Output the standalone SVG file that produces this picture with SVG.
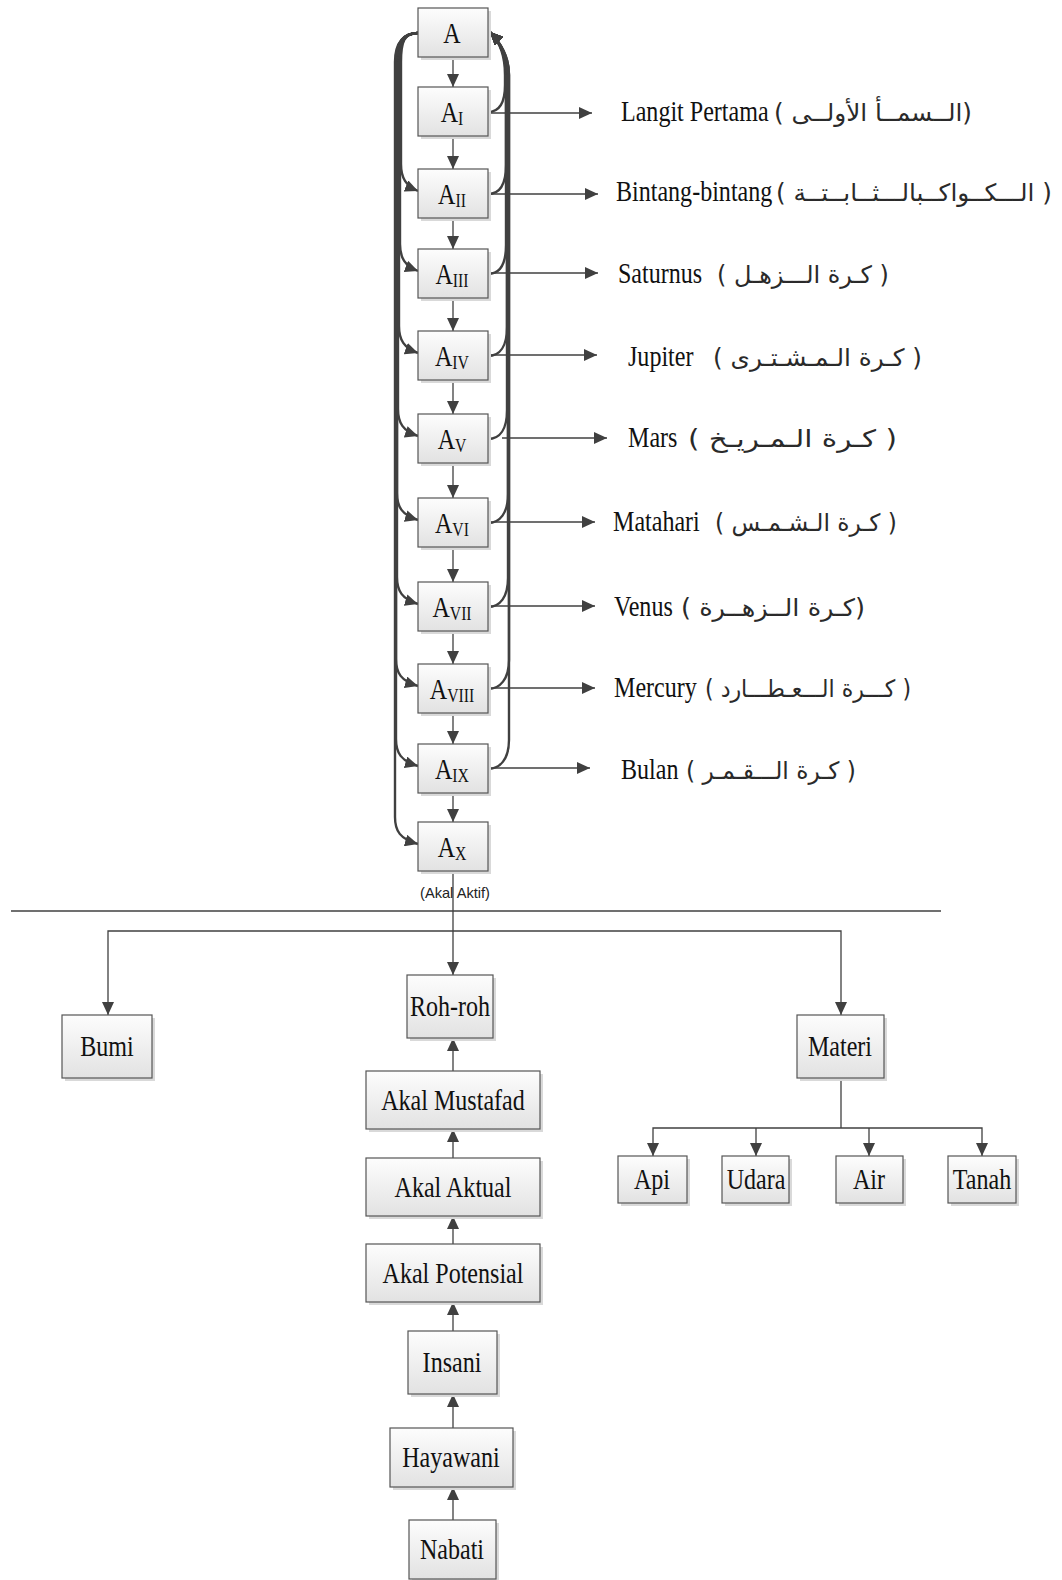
<svg xmlns="http://www.w3.org/2000/svg" width="1062" height="1580" viewBox="0 0 1062 1580">
<defs>
<linearGradient id="g" x1="0" y1="0" x2="0" y2="1">
<stop offset="0" stop-color="#fdfdfd"/>
<stop offset="1" stop-color="#e2e2e2"/>
</linearGradient>
<marker id="ah" viewBox="0 0 13 12" refX="13" refY="6" markerWidth="13" markerHeight="12" markerUnits="userSpaceOnUse" orient="auto-start-reverse">
<path d="M0,0 L13,6 L0,12 Z" fill="#404040"/>
</marker>
</defs>
<style>
.box rect.b{fill:url(#g);stroke:#555;stroke-width:1.2}
.box rect.s{fill:#d9d9d9}
.t{font-family:"Liberation Serif","Times New Roman",serif;font-size:29px;fill:#111;text-anchor:middle}
.sub{font-size:19px}
.lbl{font-family:"Liberation Serif","Times New Roman",serif;font-size:29px;fill:#111}
.ar{font-family:"DejaVu Sans",sans-serif;font-size:24px;fill:#2a2a2a}
.c{fill:none;stroke:#404040;stroke-width:1.3}
.cv{fill:none;stroke:#404040;stroke-width:2.4}
.small{font-family:"Liberation Sans",Arial,sans-serif;font-size:15px;fill:#222;text-anchor:middle}
</style>

<g id="connectors">
<!-- straight down arrows in A stack -->
<path class="c" d="M453,57 V87" marker-end="url(#ah)"/>
<path class="c" d="M453,136 V169" marker-end="url(#ah)"/>
<path class="c" d="M453,218 V249" marker-end="url(#ah)"/>
<path class="c" d="M453,298 V331" marker-end="url(#ah)"/>
<path class="c" d="M453,380 V414" marker-end="url(#ah)"/>
<path class="c" d="M453,463 V498" marker-end="url(#ah)"/>
<path class="c" d="M453,547 V582" marker-end="url(#ah)"/>
<path class="c" d="M453,631 V664" marker-end="url(#ah)"/>
<path class="c" d="M453,713 V744" marker-end="url(#ah)"/>
<path class="c" d="M453,793 V822" marker-end="url(#ah)"/>

<!-- left curved arrows from A -->
<path class="cv" d="M418,33 C404,33 401,42 401,62 L401,164 C401,178 406,186 418,191" marker-end="url(#ah)"/>
<path class="cv" d="M418,33 C404,33 400,42 400,62 L400,244 C400,258 405,266 418,271" marker-end="url(#ah)"/>
<path class="cv" d="M418,33 C404,33 399,42 399,62 L399,326 C399,340 404,348 418,353" marker-end="url(#ah)"/>
<path class="cv" d="M418,33 C404,33 398,42 398,62 L398,409 C398,423 403,431 418,436" marker-end="url(#ah)"/>
<path class="cv" d="M418,33 C404,33 397,42 397,62 L397,493 C397,507 402,515 418,520" marker-end="url(#ah)"/>
<path class="cv" d="M418,33 C404,33 397,42 397,62 L397,577 C397,591 402,599 418,604" marker-end="url(#ah)"/>
<path class="cv" d="M418,33 C404,33 396,42 396,62 L396,659 C396,673 401,681 418,686" marker-end="url(#ah)"/>
<path class="cv" d="M418,33 C404,33 396,42 396,62 L396,739 C396,753 401,761 418,766" marker-end="url(#ah)"/>
<path class="cv" d="M418,33 C404,33 395,42 395,62 L395,817 C395,831 400,839 418,844" marker-end="url(#ah)"/>

<!-- right curved arrows back to A -->
<path class="cv" d="M488,112 C500,112 505,102 505,85 L505,75 C505,55 500,42 490,32" marker-end="url(#ah)"/>
<path class="cv" d="M488,194 C500,194 506,184 506,165 L506,75 C506,55 500,42 490,32" marker-end="url(#ah)"/>
<path class="cv" d="M488,274 C500,274 506,264 506,245 L506,75 C506,55 500,42 490,32" marker-end="url(#ah)"/>
<path class="cv" d="M488,356 C500,356 507,346 507,327 L507,75 C507,55 500,42 490,32" marker-end="url(#ah)"/>
<path class="cv" d="M488,439 C500,439 507,429 507,410 L507,75 C507,55 500,42 490,32" marker-end="url(#ah)"/>
<path class="cv" d="M488,523 C500,523 508,513 508,494 L508,75 C508,55 500,42 490,32" marker-end="url(#ah)"/>
<path class="cv" d="M488,607 C500,607 508,597 508,578 L508,75 C508,55 500,42 490,32" marker-end="url(#ah)"/>
<path class="cv" d="M488,689 C500,689 509,679 509,660 L509,75 C509,55 500,42 490,32" marker-end="url(#ah)"/>
<path class="cv" d="M488,769 C500,769 509,759 509,740 L509,75 C509,55 500,42 490,32" marker-end="url(#ah)"/>

<!-- horizontal arrows to labels -->
<path class="c" d="M488,113 H592" marker-end="url(#ah)"/>
<path class="c" d="M488,194 H598" marker-end="url(#ah)"/>
<path class="c" d="M488,273 H598" marker-end="url(#ah)"/>
<path class="c" d="M488,355 H597" marker-end="url(#ah)"/>
<path class="c" d="M502,438 H607" marker-end="url(#ah)"/>
<path class="c" d="M488,522 H595" marker-end="url(#ah)"/>
<path class="c" d="M488,606 H595" marker-end="url(#ah)"/>
<path class="c" d="M488,688 H595" marker-end="url(#ah)"/>
<path class="c" d="M488,768 H590" marker-end="url(#ah)"/>

<!-- divider -->
<path class="c" d="M11,911 H941"/>

<!-- A_X to Roh-roh and branches -->
<path class="c" d="M453,871 V975" marker-end="url(#ah)"/>
<path class="c" d="M841,1015 V931 H108 V1015" marker-start="url(#ah)" marker-end="url(#ah)"/>

<!-- Materi to elements -->
<path class="c" d="M841,1078 V1128"/>
<path class="c" d="M653,1156 V1128 H982 V1156" marker-start="url(#ah)" marker-end="url(#ah)"/>
<path class="c" d="M756,1128 V1156" marker-end="url(#ah)"/>
<path class="c" d="M869,1128 V1156" marker-end="url(#ah)"/>

<!-- lower stack upward arrows -->
<path class="c" d="M453,1071 V1038" marker-end="url(#ah)"/>
<path class="c" d="M453,1158 V1129" marker-end="url(#ah)"/>
<path class="c" d="M453,1244 V1216" marker-end="url(#ah)"/>
<path class="c" d="M453,1331 V1302" marker-end="url(#ah)"/>
<path class="c" d="M453,1428 V1394" marker-end="url(#ah)"/>
<path class="c" d="M453,1520 V1487" marker-end="url(#ah)"/>
</g>

<!-- A stack nodes -->
<g id="A" class="box"><rect class="s" x="421" y="11" width="70" height="49"/><rect class="b" x="418" y="8" width="70" height="49"/><text class="t" transform="translate(452,43) scale(0.83,1)">A</text></g>
<g id="A1" class="box"><rect class="s" x="421" y="90" width="70" height="49"/><rect class="b" x="418" y="87" width="70" height="49"/><text class="t" transform="translate(452,122) scale(0.83,1)">A<tspan class="sub" dy="3">I</tspan></text></g>
<g id="A2" class="box"><rect class="s" x="421" y="172" width="70" height="49"/><rect class="b" x="418" y="169" width="70" height="49"/><text class="t" transform="translate(452,204) scale(0.83,1)">A<tspan class="sub" dy="3">II</tspan></text></g>
<g id="A3" class="box"><rect class="s" x="421" y="252" width="70" height="49"/><rect class="b" x="418" y="249" width="70" height="49"/><text class="t" transform="translate(452,284) scale(0.83,1)">A<tspan class="sub" dy="3">III</tspan></text></g>
<g id="A4" class="box"><rect class="s" x="421" y="334" width="70" height="49"/><rect class="b" x="418" y="331" width="70" height="49"/><text class="t" transform="translate(452,366) scale(0.83,1)">A<tspan class="sub" dy="3">IV</tspan></text></g>
<g id="A5" class="box"><rect class="s" x="421" y="417" width="70" height="49"/><rect class="b" x="418" y="414" width="70" height="49"/><text class="t" transform="translate(452,449) scale(0.83,1)">A<tspan class="sub" dy="3">V</tspan></text></g>
<g id="A6" class="box"><rect class="s" x="421" y="501" width="70" height="49"/><rect class="b" x="418" y="498" width="70" height="49"/><text class="t" transform="translate(452,533) scale(0.83,1)">A<tspan class="sub" dy="3">VI</tspan></text></g>
<g id="A7" class="box"><rect class="s" x="421" y="585" width="70" height="49"/><rect class="b" x="418" y="582" width="70" height="49"/><text class="t" transform="translate(452,617) scale(0.83,1)">A<tspan class="sub" dy="3">VII</tspan></text></g>
<g id="A8" class="box"><rect class="s" x="421" y="667" width="70" height="49"/><rect class="b" x="418" y="664" width="70" height="49"/><text class="t" transform="translate(452,699) scale(0.83,1)">A<tspan class="sub" dy="3">VIII</tspan></text></g>
<g id="A9" class="box"><rect class="s" x="421" y="747" width="70" height="49"/><rect class="b" x="418" y="744" width="70" height="49"/><text class="t" transform="translate(452,779) scale(0.83,1)">A<tspan class="sub" dy="3">IX</tspan></text></g>
<g id="A10" class="box"><rect class="s" x="421" y="825" width="70" height="49"/><rect class="b" x="418" y="822" width="70" height="49"/><text class="t" transform="translate(452,857) scale(0.83,1)">A<tspan class="sub" dy="3">X</tspan></text></g>
<text id="akal-aktif" class="small" x="455" y="898" textLength="70" lengthAdjust="spacingAndGlyphs">(Akal Aktif)</text>

<!-- right labels -->
<g id="lbl-langit"><text class="lbl" transform="translate(621,121) scale(0.83,1)">Langit Pertama</text><text class="ar" x="774" y="121" textLength="198" lengthAdjust="spacingAndGlyphs">( الــسمــأ الأولــى)</text></g>
<g id="lbl-bintang"><text class="lbl" transform="translate(616,201) scale(0.83,1)">Bintang-bintang</text><text class="ar" x="776" y="201" textLength="276" lengthAdjust="spacingAndGlyphs">( الـــكــواكــبالـــثــابــتــة )</text></g>
<g id="lbl-saturnus"><text class="lbl" transform="translate(618,283) scale(0.83,1)">Saturnus</text><text class="ar" x="717" y="283" textLength="172" lengthAdjust="spacingAndGlyphs">( كـرة الـــزهـل )</text></g>
<g id="lbl-jupiter"><text class="lbl" transform="translate(628,366) scale(0.83,1)">Jupiter</text><text class="ar" x="713" y="366" textLength="209" lengthAdjust="spacingAndGlyphs">( كـرة الـمـشـتـرى )</text></g>
<g id="lbl-mars"><text class="lbl" transform="translate(628,447) scale(0.83,1)">Mars</text><text class="ar" x="688" y="447" textLength="209" lengthAdjust="spacingAndGlyphs">( كـرة  الـمـريـخ    )</text></g>
<g id="lbl-matahari"><text class="lbl" transform="translate(613,531) scale(0.83,1)">Matahari</text><text class="ar" x="715" y="531" textLength="182" lengthAdjust="spacingAndGlyphs">( كـرة الـشـمـس )</text></g>
<g id="lbl-venus"><text class="lbl" transform="translate(614,616) scale(0.83,1)">Venus</text><text class="ar" x="681" y="616" textLength="184" lengthAdjust="spacingAndGlyphs">( كـرة   الــزهــرة)</text></g>
<g id="lbl-mercury"><text class="lbl" transform="translate(614,697) scale(0.83,1)">Mercury</text><text class="ar" x="705" y="697" textLength="206" lengthAdjust="spacingAndGlyphs">( كـــرة الـــعـطـــارد )</text></g>
<g id="lbl-bulan"><text class="lbl" transform="translate(621,779) scale(0.83,1)">Bulan</text><text class="ar" x="686" y="779" textLength="170" lengthAdjust="spacingAndGlyphs">( كـرة الـــقـمـر )</text></g>

<!-- lower nodes -->
<g id="bumi" class="box"><rect class="s" x="65" y="1018" width="90" height="63"/><rect class="b" x="62" y="1015" width="90" height="63"/><text class="t" transform="translate(107,1056) scale(0.83,1)">Bumi</text></g>
<g id="rohroh" class="box"><rect class="s" x="410" y="978" width="86" height="63"/><rect class="b" x="407" y="975" width="86" height="63"/><text class="t" transform="translate(450,1016) scale(0.83,1)">Roh-roh</text></g>
<g id="materi" class="box"><rect class="s" x="800" y="1018" width="87" height="63"/><rect class="b" x="797" y="1015" width="87" height="63"/><text class="t" transform="translate(840,1056) scale(0.83,1)">Materi</text></g>
<g id="mustafad" class="box"><rect class="s" x="369" y="1074" width="174" height="58"/><rect class="b" x="366" y="1071" width="174" height="58"/><text class="t" transform="translate(453,1110) scale(0.83,1)">Akal Mustafad</text></g>
<g id="aktual" class="box"><rect class="s" x="369" y="1161" width="174" height="58"/><rect class="b" x="366" y="1158" width="174" height="58"/><text class="t" transform="translate(453,1197) scale(0.83,1)">Akal Aktual</text></g>
<g id="potensial" class="box"><rect class="s" x="369" y="1247" width="174" height="58"/><rect class="b" x="366" y="1244" width="174" height="58"/><text class="t" transform="translate(453,1283) scale(0.83,1)">Akal Potensial</text></g>
<g id="insani" class="box"><rect class="s" x="411" y="1334" width="89" height="63"/><rect class="b" x="408" y="1331" width="89" height="63"/><text class="t" transform="translate(452,1372) scale(0.83,1)">Insani</text></g>
<g id="hayawani" class="box"><rect class="s" x="393" y="1431" width="123" height="59"/><rect class="b" x="390" y="1428" width="123" height="59"/><text class="t" transform="translate(451,1467) scale(0.83,1)">Hayawani</text></g>
<g id="nabati" class="box"><rect class="s" x="412" y="1523" width="87" height="59"/><rect class="b" x="409" y="1520" width="87" height="59"/><text class="t" transform="translate(452,1559) scale(0.83,1)">Nabati</text></g>
<g id="api" class="box"><rect class="s" x="621" y="1159" width="69" height="47"/><rect class="b" x="618" y="1156" width="69" height="47"/><text class="t" transform="translate(652,1189) scale(0.83,1)">Api</text></g>
<g id="udara" class="box"><rect class="s" x="725" y="1159" width="67" height="47"/><rect class="b" x="722" y="1156" width="67" height="47"/><text class="t" transform="translate(756,1189) scale(0.83,1)">Udara</text></g>
<g id="air" class="box"><rect class="s" x="839" y="1159" width="67" height="47"/><rect class="b" x="836" y="1156" width="67" height="47"/><text class="t" transform="translate(869,1189) scale(0.83,1)">Air</text></g>
<g id="tanah" class="box"><rect class="s" x="951" y="1159" width="68" height="47"/><rect class="b" x="948" y="1156" width="68" height="47"/><text class="t" transform="translate(982,1189) scale(0.83,1)">Tanah</text></g>
</svg>
